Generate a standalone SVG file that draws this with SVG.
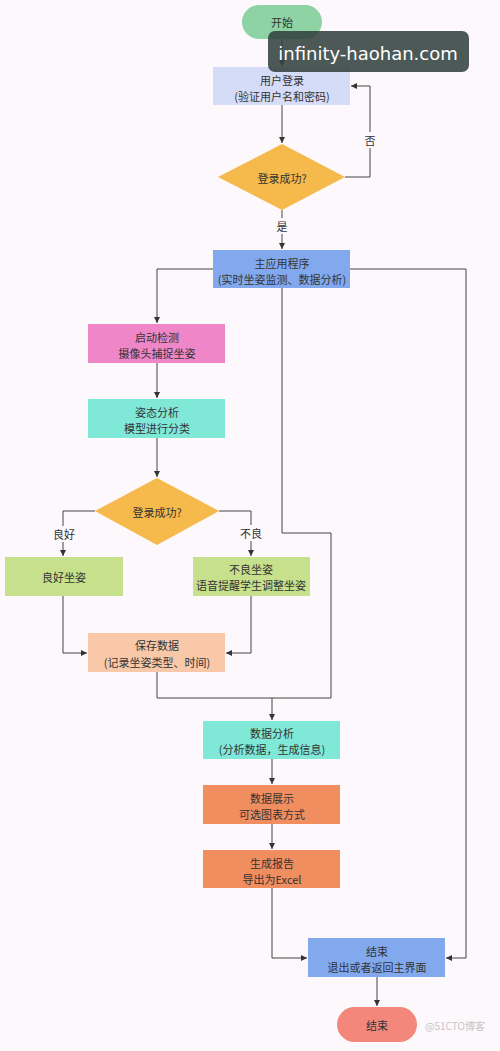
<svg xmlns="http://www.w3.org/2000/svg" width="500" height="1051" viewBox="0 0 500 1051">
<defs>
<marker id="arr" viewBox="0 0 10 10" refX="10" refY="5" markerWidth="6" markerHeight="6" orient="auto" markerUnits="userSpaceOnUse">
<path d="M0,0 L10,5 L0,10 z" fill="#333"/>
</marker>
<style>
text{font-family:"Noto Sans CJK SC","Noto Sans",sans-serif;font-size:11px;fill:#333;text-anchor:middle;dominant-baseline:central}
.c{fill:none;stroke:#444;stroke-width:1}
.lbl{font-size:11px}
</style>
</defs>
<rect x="0" y="0" width="500" height="1051" fill="#fcf8fb"/>

<g id="connectors">
<path class="c" d="M282,39 L282,66" marker-end="url(#arr)"/>
<path class="c" d="M282,105 L282,143" marker-end="url(#arr)"/>
<path class="c" d="M345,177 L370,177 L370,86 L351,86" marker-end="url(#arr)"/>
<path class="c" d="M282,210 L282,249" marker-end="url(#arr)"/>
<path class="c" d="M213,269 L157,269 L157,323" marker-end="url(#arr)"/>
<path class="c" d="M350,269 L466,269 L466,958 L446,958" marker-end="url(#arr)"/>
<path class="c" d="M282,288 L282,533 L331,533 L331,698"/>
<path class="c" d="M157,363 L157,398" marker-end="url(#arr)"/>
<path class="c" d="M157,438 L157,477" marker-end="url(#arr)"/>
<path class="c" d="M95,511 L63,511 L63,556" marker-end="url(#arr)"/>
<path class="c" d="M219,511 L251,511 L251,556" marker-end="url(#arr)"/>
<path class="c" d="M63,596 L63,653 L87,653" marker-end="url(#arr)"/>
<path class="c" d="M251,596 L251,653 L226,653" marker-end="url(#arr)"/>
<path class="c" d="M157,672 L157,698 L331,698"/>
<path class="c" d="M272,698 L272,720" marker-end="url(#arr)"/>
<path class="c" d="M272,759 L272,784" marker-end="url(#arr)"/>
<path class="c" d="M272,824 L272,849" marker-end="url(#arr)"/>
<path class="c" d="M272,888 L272,958 L307,958" marker-end="url(#arr)"/>
<path class="c" d="M377,977 L377,1006" marker-end="url(#arr)"/>
<rect x="363" y="132" width="14" height="16" fill="#fcf8fb"/>
<text x="370" y="140" class="lbl">否</text>
<rect x="275" y="218" width="14" height="16" fill="#fcf8fb"/>
<text x="282" y="226" class="lbl">是</text>
<rect x="55" y="526" width="20" height="16" fill="#fcf8fb"/>
<text x="64" y="534" class="lbl">良好</text>
<rect x="241" y="525" width="20" height="16" fill="#fcf8fb"/>
<text x="251" y="533" class="lbl">不良</text>
</g>

<g id="start">
<rect x="242" y="5" width="80" height="34" rx="17" fill="#8ed3a3"/>
<text x="282" y="22">开始</text>
</g>
<g id="login">
<rect x="213" y="67" width="137" height="38" fill="#d5dcf8"/>
<text x="282" y="80">用户登录</text>
<text x="282" y="96">(验证用户名和密码)</text>
</g>
<g id="decision1">
<polygon points="282,144 345,177 282,210 218,177" fill="#f6b94c"/>
<text x="282" y="178">登录成功?</text>
</g>
<g id="main">
<rect x="213" y="250" width="137" height="38" fill="#82a9ee"/>
<text x="282" y="263">主应用程序</text>
<text x="282" y="279">(实时坐姿监测、数据分析)</text>
</g>
<g id="detect">
<rect x="88" y="324" width="137" height="39" fill="#ef86c8"/>
<text x="157" y="337">启动检测</text>
<text x="157" y="353">摄像头捕捉坐姿</text>
</g>
<g id="posture">
<rect x="88" y="399" width="137" height="39" fill="#80e8d7"/>
<text x="157" y="412">姿态分析</text>
<text x="157" y="428">模型进行分类</text>
</g>
<g id="decision2">
<polygon points="157,478 219,511 157,545 95,511" fill="#f6b94c"/>
<text x="157" y="512">登录成功?</text>
</g>
<g id="good">
<rect x="5" y="557" width="118" height="39" fill="#c6e08c"/>
<text x="64" y="577">良好坐姿</text>
</g>
<g id="bad">
<rect x="193" y="557" width="117" height="39" fill="#c6e08c"/>
<text x="251" y="569">不良坐姿</text>
<text x="251" y="585">语音提醒学生调整坐姿</text>
</g>
<g id="save">
<rect x="88" y="633" width="137" height="39" fill="#f8c8a9"/>
<text x="157" y="645">保存数据</text>
<text x="157" y="662">(记录坐姿类型、时间)</text>
</g>
<g id="analysis">
<rect x="203" y="721" width="137" height="38" fill="#80e8d7"/>
<text x="272" y="733">数据分析</text>
<text x="272" y="749">(分析数据，生成信息)</text>
</g>
<g id="display">
<rect x="203" y="785" width="137" height="39" fill="#f08e60"/>
<text x="272" y="798">数据展示</text>
<text x="272" y="814">可选图表方式</text>
</g>
<g id="report">
<rect x="203" y="850" width="137" height="38" fill="#f08e60"/>
<text x="272" y="863">生成报告</text>
<text x="272" y="879">导出为Excel</text>
</g>
<g id="endbox">
<rect x="308" y="938" width="137" height="39" fill="#82a9ee"/>
<text x="377" y="951">结束</text>
<text x="377" y="967">退出或者返回主界面</text>
</g>
<g id="end">
<rect x="337" y="1007" width="80" height="35" rx="17.5" fill="#f4877c"/>
<text x="377" y="1025">结束</text>
</g>

<g id="watermark">
<rect x="268" y="31" width="201" height="41" rx="7" fill="#33423f" fill-opacity="0.88"/>
<text x="368" y="53" style="font-family:'DejaVu Sans','Noto Sans',sans-serif;font-size:18px;fill:#ffffff">infinity-haohan.com</text>
<text x="455" y="1025" style="font-size:10px;fill:#c8c4c8">@51CTO博客</text>
</g>
</svg>
